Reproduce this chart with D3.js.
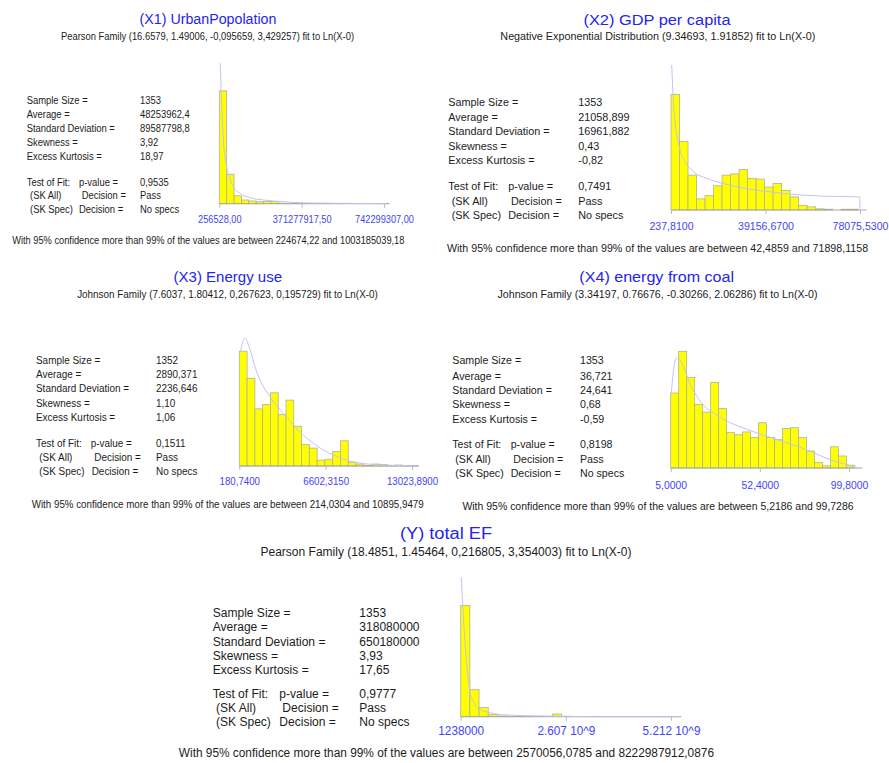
<!DOCTYPE html>
<html>
<head>
<meta charset="utf-8">
<script src="https://cdn.jsdelivr.net/npm/d3@7"></script>
<style>
  html, body { margin: 0; padding: 0; background: #ffffff; }
  svg { display: block; font-family: "Liberation Sans", Arial, sans-serif; }
</style>
</head>
<body>
<svg id="chart" width="889" height="763"></svg>
<script>
// ---------- shared labels ----------
const statLabels = ["Sample Size =", "Average =", "Standard Deviation =", "Skewness =", "Excess Kurtosis ="];
const bottomPrefix = "With 95% confidence more than 99% of the values are between ";

// ---------- (X1) UrbanPopolation ----------
const x1Title = "(X1)  UrbanPopolation";
const x1Subtitle = "Pearson Family (16.6579, 1.49006, -0,095659, 3,429257) fit to Ln(X-0)";
const x1Stats = ["1353", "48253962,4", "89587798,8", "3,92", "18,97"];
const x1Fit = ["0,9535", "Pass", "No specs"];
const x1Range = ["224674,22", "1003185039,18"];
const x1Ticks = [256528, 371277917.5, 742299307];
const x1TickLabels = ["256528,00", "371277917,50", "742299307,00"];
const x1BinStart = 256528, x1BinWidth = 33240000;
const x1Counts = [910, 237, 64, 30, 22, 16, 19, 19, 4, 3, 3, 3, 2, 2, 3, 2, 2, 3, 2, 2, 1, 2, 2];
const x1YMax = 1135;
const x1Curve = [[4.76e6, 1133], [11.07e6, 783], [18.28e6, 514], [30.44e6, 326], [45.3e6, 218],
  [63.3e6, 137], [93.5e6, 84], [138.6e6, 48], [198.5e6, 30], [288.6e6, 16], [394e6, 6],
  [544e6, 3], [754.4e6, 0]];

// ---------- (X2) GDP per capita ----------
const x2Title = "(X2) GDP per capita";
const x2Subtitle = "Negative Exponential Distribution (9.34693, 1.91852) fit to Ln(X-0)";
const x2Stats = ["1353", "21058,899", "16961,882", "0,43", "-0,82"];
const x2Fit = ["0,7491", "Pass", "No specs"];
const x2Range = ["42,4859", "71898,1158"];
const x2Ticks = [237.81, 39156.67, 78075.53];
const x2TickLabels = ["237,8100", "39156,6700", "78075,5300"];
const x2BinStart = 237.81, x2BinWidth = 3504.3;
const x2Counts = [292, 173, 88, 28, 36, 61, 88, 91, 102, 80, 78, 58, 67, 49, 33, 12, 8, 3, 2, 0, 2, 2, 0];
const x2YMax = 366;
const x2Curve = [[526, 366], [1185, 278], [1885, 223], [2832, 185], [3944, 151], [6003, 122],
  [9421, 97], [14939, 80], [21775, 67], [28652, 57], [35530, 50], [42365, 45], [49242, 40],
  [56119, 37], [62956, 35], [69832, 34], [77900, 33], [78075, 0]];

// ---------- (X3) Energy use ----------
const x3Title = "(X3) Energy use";
const x3Subtitle = "Johnson Family (7.6037, 1.80412, 0,267623, 0,195729) fit to Ln(X-0)";
const x3Stats = ["1352", "2890,371", "2236,646", "1,10", "1,06"];
const x3Fit = ["0,1511", "Pass", "No specs"];
const x3Range = ["214,0304", "10895,9479"];
const x3Ticks = [180.74, 6602.315, 13023.89];
const x3TickLabels = ["180,7400", "6602,3150", "13023,8900"];
const x3BinStart = 180.74, x3BinWidth = 578.7;
const x3Counts = [237, 181, 118, 127, 151, 106, 136, 82, 44, 37, 12, 14, 30, 52, 8, 4, 1, 4, 3, 1, 2, 1, 1];
const x3YMax = 289;
const x3Curve = [[255, 235], [605, 264], [977, 240], [1348, 205], [1720, 178], [2218, 153],
  [2709, 133], [3453, 109], [4197, 85], [4940, 64], [5684, 47], [6428, 33], [7171, 23],
  [7915, 14], [8911, 7], [10146, 3], [11388, 1.5], [13374, 0]];

// ---------- (X4) energy from coal ----------
const x4Title = "(X4) energy from coal";
const x4Subtitle = "Johnson Family (3.34197, 0.76676, -0.30266, 2.06286) fit to Ln(X-0)";
const x4Stats = ["1353", "36,721", "24,641", "0,68", "-0,59"];
const x4Fit = ["0,8198", "Pass", "No specs"];
const x4Range = ["5,2186", "99,7286"];
const x4Ticks = [5, 52.4, 99.8];
const x4TickLabels = ["5,0000", "52,4000", "99,8000"];
const x4BinStart = 5, x4BinWidth = 4.248;
const x4Counts = [106, 165, 128, 90, 79, 121, 84, 50, 47, 51, 43, 64, 43, 40, 56, 57, 43, 24, 8, 3, 30, 17, 4, 0];
const x4YMax = 198;
const x4Curve = [[5.32, 105.5], [6.38, 136], [7.45, 152.6], [8.51, 155.8], [9.94, 153.5],
  [11.7, 144], [13.83, 129], [16.17, 114], [18.82, 101.7], [22.33, 89], [26.8, 79.5],
  [32.12, 70.2], [38.28, 62.2], [45.41, 54.7], [52.48, 48], [59.55, 42], [66.68, 35.7],
  [73.75, 29.2], [80.82, 21.6], [87.95, 13.7], [95.02, 7.5], [100.33, 3.3], [104.75, 0.4]];

// ---------- (Y) total EF ----------
const yTitle = "(Y) total EF";
const ySubtitle = "Pearson Family (18.4851, 1.45464, 0,216805, 3,354003) fit to Ln(X-0)";
const yStats = ["1353", "318080000", "650180000", "3,93", "17,65"];
const yFit = ["0,9777", "Pass", "No specs"];
const yRange = ["2570056,0785", "8222987912,0876"];
const yTicks = [1238000, 2606619000, 5212000000];
const yTickLabels = ["1238000", "2.607 10^9", "5.212 10^9"];
const yBinStart = 1238000, yBinWidth = 227200000;
const yCounts = [955, 232, 79, 17, 6, 3, 3, 3, 3, 3, 23, 4, 3, 2, 3, 2, 2, 2, 2, 1, 2, 1, 1, 1];
const yYMax = 1201;
const yCurve = [[16.1e6, 1201], [83.2e6, 772], [150.3e6, 458], [214.9e6, 244], [314.3e6, 129],
  [480.8e6, 63], [729.3e6, 34], [1144e6, 15], [1972e6, 6], [3629e6, 0], [5450e6, 0]];

// ---------- panel assembly ----------
const panelData = [
  { title: x1Title, subtitle: x1Subtitle, stats: x1Stats, fit: x1Fit, range: x1Range, ticks: x1Ticks,
    tickLabels: x1TickLabels, binStart: x1BinStart, binWidth: x1BinWidth, counts: x1Counts, yMax: x1YMax, curve: x1Curve },
  { title: x2Title, subtitle: x2Subtitle, stats: x2Stats, fit: x2Fit, range: x2Range, ticks: x2Ticks,
    tickLabels: x2TickLabels, binStart: x2BinStart, binWidth: x2BinWidth, counts: x2Counts, yMax: x2YMax, curve: x2Curve },
  { title: x3Title, subtitle: x3Subtitle, stats: x3Stats, fit: x3Fit, range: x3Range, ticks: x3Ticks,
    tickLabels: x3TickLabels, binStart: x3BinStart, binWidth: x3BinWidth, counts: x3Counts, yMax: x3YMax, curve: x3Curve },
  { title: x4Title, subtitle: x4Subtitle, stats: x4Stats, fit: x4Fit, range: x4Range, ticks: x4Ticks,
    tickLabels: x4TickLabels, binStart: x4BinStart, binWidth: x4BinWidth, counts: x4Counts, yMax: x4YMax, curve: x4Curve },
  { title: yTitle, subtitle: ySubtitle, stats: yStats, fit: yFit, range: yRange, ticks: yTicks,
    tickLabels: yTickLabels, binStart: yBinStart, binWidth: yBinWidth, counts: yCounts, yMax: yYMax, curve: yCurve }
];

// Layout of each panel: text anchors and histogram frame (pixels).
// k = horizontal text stretch of the panel, f = font size factor.
const panelLayout = [
  { k: 1.0, f: 1.0, titleX: 208, titleY: 24, subX: 207.5, subY: 39.5,
    labX: 26.7, valX: 140, rows: [103.5, 118, 132, 145.5, 159.5], fitRows: [185.5, 198.5, 212.5],
    pX: 79, skAllX: 30, dec1X: 81.7, dec2X: 79, botX: 208.3, botY: 244,
    x0: 219.3, x1: 384, base: 203.7, h: 140.7, labelY: 19.3 },
  { k: 1.15, f: 1.0, titleX: 657, titleY: 24.5, subX: 657.8, subY: 40,
    labX: 448.3, valX: 578.3, rows: [106, 120.5, 135, 149.5, 164], fitRows: [189.5, 204.5, 219],
    pX: 508.3, skAllX: 451.7, dec1X: 511, dec2X: 508.3, botX: 657.5, botY: 252,
    x0: 671, x1: 860, base: 210, h: 145, labelY: 20 },
  { k: 1.055, f: 1.0, titleX: 227.8, titleY: 281.5, subX: 227.5, subY: 298,
    labX: 36, valX: 156, rows: [363.5, 378, 392, 406.8, 421], fitRows: [446.8, 461, 475],
    pX: 90.7, skAllX: 39.3, dec1X: 94.3, dec2X: 91.7, botX: 227.7, botY: 508,
    x0: 239.3, x1: 412, base: 466, h: 140, labelY: 19.5 },
  { k: 1.13, f: 1.0, titleX: 656.7, titleY: 282, subX: 657.5, subY: 298,
    labX: 452.3, valX: 580, rows: [364, 379.5, 393.5, 408, 422.5], fitRows: [448, 463, 477],
    pX: 510.7, skAllX: 455.3, dec1X: 513.3, dec2X: 510.7, botX: 658, botY: 510,
    x0: 670.7, x1: 849, base: 468, h: 140, labelY: 21 },
  { k: 1.28, f: 1.08, titleX: 446, titleY: 539, subX: 446, subY: 555.5,
    labX: 212.7, valX: 359.3, rows: [617, 631, 645.5, 659.5, 674], fitRows: [698, 712, 726],
    pX: 279.3, skAllX: 216, dec1X: 282.3, dec2X: 279.3, botX: 446.4, botY: 756.5,
    x0: 460.7, x1: 671, base: 716.7, h: 140, labelY: 18.8 }
];

// Base text styles (font size px, horizontal scale)
const styles = {
  title:  { fs: 15,   sx: 0.95,  fill: "#2424f0" },
  sub:    { fs: 11,   sx: 0.853, fill: "#1c1c1c" },
  stat:   { fs: 11.5, sx: 0.819, fill: "#1c1c1c" },
  bottom: { fs: 11,   sx: 0.843, fill: "#1c1c1c" },
  tick:   { fs: 11.5, sx: 0.80,  fill: "#4444f4" }
};

const svg = d3.select("#chart");

function drawText(g, x, y, str, style, lay, anchor) {
  const fs = style.fs * lay.f;
  const sx = style.sx * lay.k / lay.f;
  g.append("text")
    .attr("transform", `translate(${x},${y}) scale(${sx},1)`)
    .attr("font-size", fs)
    .attr("text-anchor", anchor || "start")
    .attr("fill", style.fill)
    .text(str);
}

panelData.forEach((d, i) => {
  const L = panelLayout[i];
  const g = svg.append("g");

  // headings
  drawText(g, L.titleX, L.titleY, d.title, styles.title, L, "middle");
  drawText(g, L.subX, L.subY, d.subtitle, styles.sub, L, "middle");

  // summary statistics block
  statLabels.forEach((lab, j) => {
    drawText(g, L.labX, L.rows[j], lab, styles.stat, L);
    drawText(g, L.valX, L.rows[j], d.stats[j], styles.stat, L);
  });
  drawText(g, L.labX, L.fitRows[0], "Test of Fit:", styles.stat, L);
  drawText(g, L.pX, L.fitRows[0], "p-value =", styles.stat, L);
  drawText(g, L.skAllX, L.fitRows[1], "(SK All)", styles.stat, L);
  drawText(g, L.dec1X, L.fitRows[1], "Decision =", styles.stat, L);
  drawText(g, L.skAllX, L.fitRows[2], "(SK Spec)", styles.stat, L);
  drawText(g, L.dec2X, L.fitRows[2], "Decision =", styles.stat, L);
  d.fit.forEach((v, j) => drawText(g, L.valX, L.fitRows[j], v, styles.stat, L));

  drawText(g, L.botX, L.botY, bottomPrefix + d.range[0] + " and " + d.range[1], styles.bottom, L, "middle");

  // histogram scales
  const x = d3.scaleLinear().domain([d.ticks[0], d.ticks[2]]).range([L.x0, L.x1]);
  const y = d3.scaleLinear().domain([0, d.yMax]).range([L.base, L.base - L.h]);
  const binEnd = d.binStart + d.counts.length * d.binWidth;

  const hg = g.append("g");
  const clipId = "clip" + i;
  hg.append("clipPath").attr("id", clipId)
    .append("rect")
    .attr("x", L.x0 - 2).attr("y", L.base - L.h)
    .attr("width", x(binEnd) - L.x0 + 4).attr("height", L.h + 1);

  hg.selectAll("rect.bar")
    .data(d.counts.map((c, j) => ({ c, a: d.binStart + j * d.binWidth, b: d.binStart + (j + 1) * d.binWidth })))
    .join("rect")
    .attr("class", "bar")
    .filter(b => b.c > 0)
    .attr("x", b => x(b.a))
    .attr("width", b => x(b.b) - x(b.a))
    .attr("y", b => y(b.c))
    .attr("height", b => y(0) - y(b.c))
    .attr("fill", "#ffff00")
    .attr("stroke", "#b2b29a")
    .attr("stroke-width", 0.8);

  // baseline
  hg.append("line")
    .attr("x1", x(d.ticks[0])).attr("x2", x(binEnd))
    .attr("y1", y(0)).attr("y2", y(0))
    .attr("stroke", "#a8a8a0").attr("stroke-width", 1);

  // fitted density
  const line = d3.line().x(p => x(p[0])).y(p => y(p[1])).curve(d3.curveMonotoneX);
  hg.append("path")
    .datum(d.curve)
    .attr("d", line)
    .attr("fill", "none")
    .attr("stroke", "#c2c2f6")
    .attr("stroke-width", 1)
    .attr("clip-path", `url(#${clipId})`);

  // x axis: min, midpoint, max
  const axis = d3.axisBottom(x)
    .tickValues(d.ticks)
    .tickFormat((v, j) => d.tickLabels[j])
    .tickSize(4)
    .tickSizeOuter(0);
  const ag = hg.append("g").attr("transform", `translate(0,${L.base})`).call(axis);
  ag.select(".domain").remove();
  ag.selectAll(".tick line").attr("stroke", "#b8b8d4");
  ag.selectAll(".tick text")
    .attr("y", L.labelY).attr("dy", 0)
    .attr("font-family", "Liberation Sans, Arial, sans-serif")
    .attr("font-size", styles.tick.fs * L.f)
    .attr("fill", styles.tick.fill)
    .attr("transform", `scale(${styles.tick.sx * L.k / L.f},1)`);
});
</script>
</body>
</html>
